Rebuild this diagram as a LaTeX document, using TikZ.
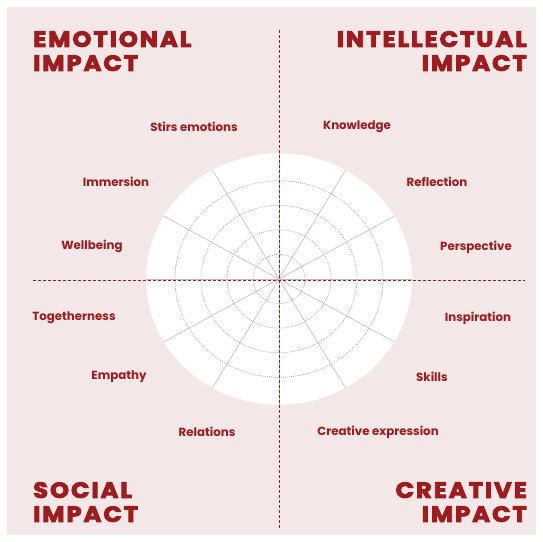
\documentclass[tikz,border=0pt]{standalone}
\usepackage{fontspec}
\setmainfont{Poppins}
\newfontfamily\heavy{Poppins}[FakeBold=4, FakeStretch=1.1, LetterSpace=9]
\definecolor{impactred}{HTML}{9C1D1F}
\definecolor{paper}{HTML}{F4E7E8}
\definecolor{gridline}{HTML}{B99EA1}
\tikzset{
  title/.style={text=impactred, font=\heavy\bfseries\fontsize{22}{24}\selectfont, inner sep=0pt, align=#1},
  title/.default=left,
  facet/.style={text=impactred, font=\bfseries\fontsize{11.8}{13}\selectfont, inner sep=0pt},
  axis/.style={impactred, line width=1pt, dash pattern=on 3pt off 2pt},
  ring/.style={gridline, line width=0.8pt, dash pattern=on 0.8pt off 1.2pt},
  spoke/.style={gridline!75, line width=0.6pt}
}
\begin{document}
\begin{tikzpicture}[x=1pt,y=-1pt]
\useasboundingbox (0,0) rectangle (543,541);
\fill[white] (0,0) rectangle (543,541);
\fill[paper] (7,7) rectangle (536,535);

% radar disk with rings and spokes
\begin{scope}[shift={(279,279)}, yscale=0.945]
  \fill[white] (0,0) circle (133);
  \foreach \r in {26,52,78,104} \draw[ring] (0,0) circle (\r);
  \foreach \a in {0,30,...,330} \draw[spoke] (0,0) -- (\a:133);
\end{scope}

% quadrant axes
\coordinate (top) at (279,30);
\coordinate (bottom) at (279,528);
\coordinate (left) at (33,280);
\coordinate (right) at (525,280);
\draw[axis] (top) -- (bottom);
\draw[axis] (left) -- (right);

% quadrant titles
\node[title, anchor=north west] (emo) at (33,31) {EMOTIONAL\\IMPACT};
\node[title=right, anchor=north east] (int) at (527,31) {INTELLECTUAL\\IMPACT};
\node[title, anchor=north west] (soc) at (33,482) {SOCIAL\\IMPACT};
\node[title=right, anchor=north east] (cre) at (527,482) {CREATIVE\\IMPACT};

% facet labels
\node[facet] (f1) at (194,127) {Stirs emotions};
\node[facet] (f2) at (357,127) {Knowledge};
\node[facet] (f3) at (116,182) {Immersion};
\node[facet] (f4) at (437,182) {Reflection};
\node[facet] (f5) at (92,246) {Wellbeing};
\node[facet] (f6) at (476,247) {Perspective};
\node[facet] (f7) at (74,318) {Togetherness};
\node[facet] (f8) at (478,318) {Inspiration};
\node[facet] (f9) at (119,377) {Empathy};
\node[facet] (f10) at (432,377) {Skills};
\node[facet] (f11) at (207,432) {Relations};
\node[facet] (f12) at (378,432) {Creative expression};
\end{tikzpicture}
\end{document}
